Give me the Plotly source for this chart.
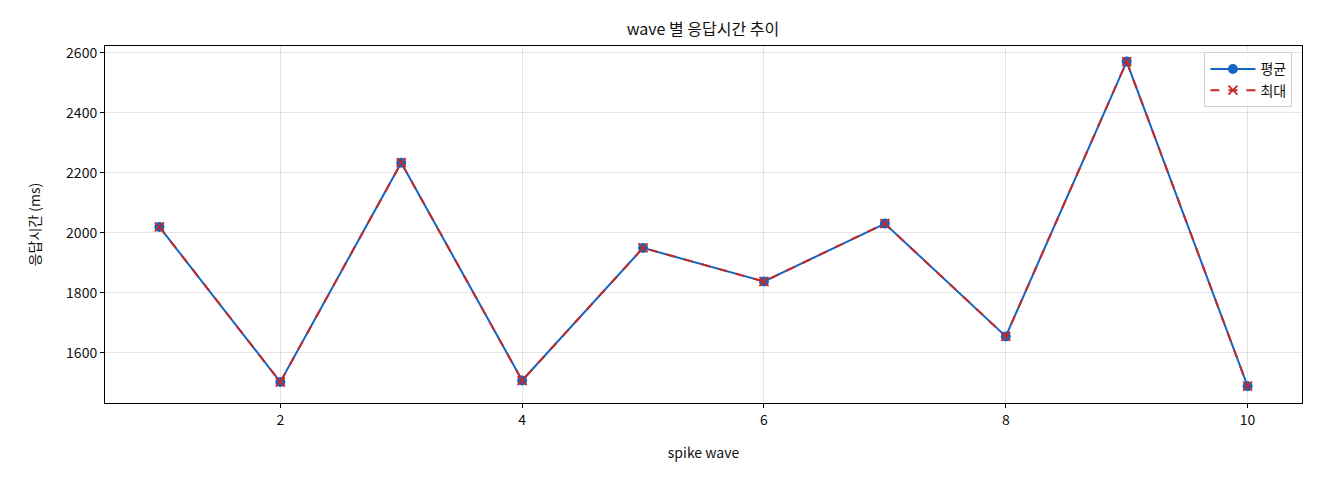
import plotly.graph_objects as go

# spike wave index and response times (ms)
waves = [1, 2, 3, 4, 5, 6, 7, 8, 9, 10]
avg_ms = [2020, 1503, 2234, 1508, 1950, 1838, 2031, 1655, 2571, 1489]
max_ms = [2020, 1503, 2234, 1508, 1950, 1838, 2031, 1655, 2571, 1489]

FONT = "Noto Sans CJK KR, Noto Sans, sans-serif"

fig = go.Figure()

fig.add_trace(go.Scatter(
    x=waves, y=avg_ms,
    mode="lines+markers",
    name="평균",
    line=dict(color="#1565C0", width=2),
    marker=dict(symbol="circle", size=10, color="#1565C0"),
))

fig.add_trace(go.Scatter(
    x=waves, y=max_ms,
    mode="lines+markers",
    name="최대",
    line=dict(color="#C62828", width=2, dash="dash"),
    marker=dict(symbol="x-thin", size=9, line=dict(color="#C62828", width=1.8)),
))

axis_common = dict(
    showline=True, linecolor="black", linewidth=1, mirror=True,
    ticks="outside", ticklen=4, tickcolor="black",
    showgrid=True, gridcolor="rgba(0,0,0,0.1)", gridwidth=1,
    zeroline=False,
    tickfont=dict(size=14, color="#111"),
)

fig.update_xaxes(
    range=[0.55, 10.45], tickvals=[2, 4, 6, 8, 10],
    title=dict(text="spike wave", font=dict(size=14, color="#111"), standoff=20),
    **axis_common,
)
fig.update_yaxes(
    range=[1433, 2623], tickvals=[1600, 1800, 2000, 2200, 2400, 2600],
    title=dict(text="응답시간 (ms)", font=dict(size=14, color="#111"), standoff=22),
    **axis_common,
)

fig.update_layout(
    width=1320, height=480,
    margin=dict(l=97, r=26, t=38, b=85),
    paper_bgcolor="white", plot_bgcolor="white",
    font=dict(family=FONT, color="#111"),
    title=dict(text="wave 별 응답시간 추이", x=0.5265, xanchor="center",
               y=0.956, yanchor="middle", font=dict(size=16, color="#111")),
    legend=dict(
        x=0.992, y=0.982, xanchor="right", yanchor="top",
        bgcolor="rgba(255,255,255,0.8)", bordercolor="#d0d0d0", borderwidth=1,
        font=dict(size=14), itemwidth=45, tracegroupgap=4,
        entrywidth=40,
    ),
)

fig.write_html("out.html")
